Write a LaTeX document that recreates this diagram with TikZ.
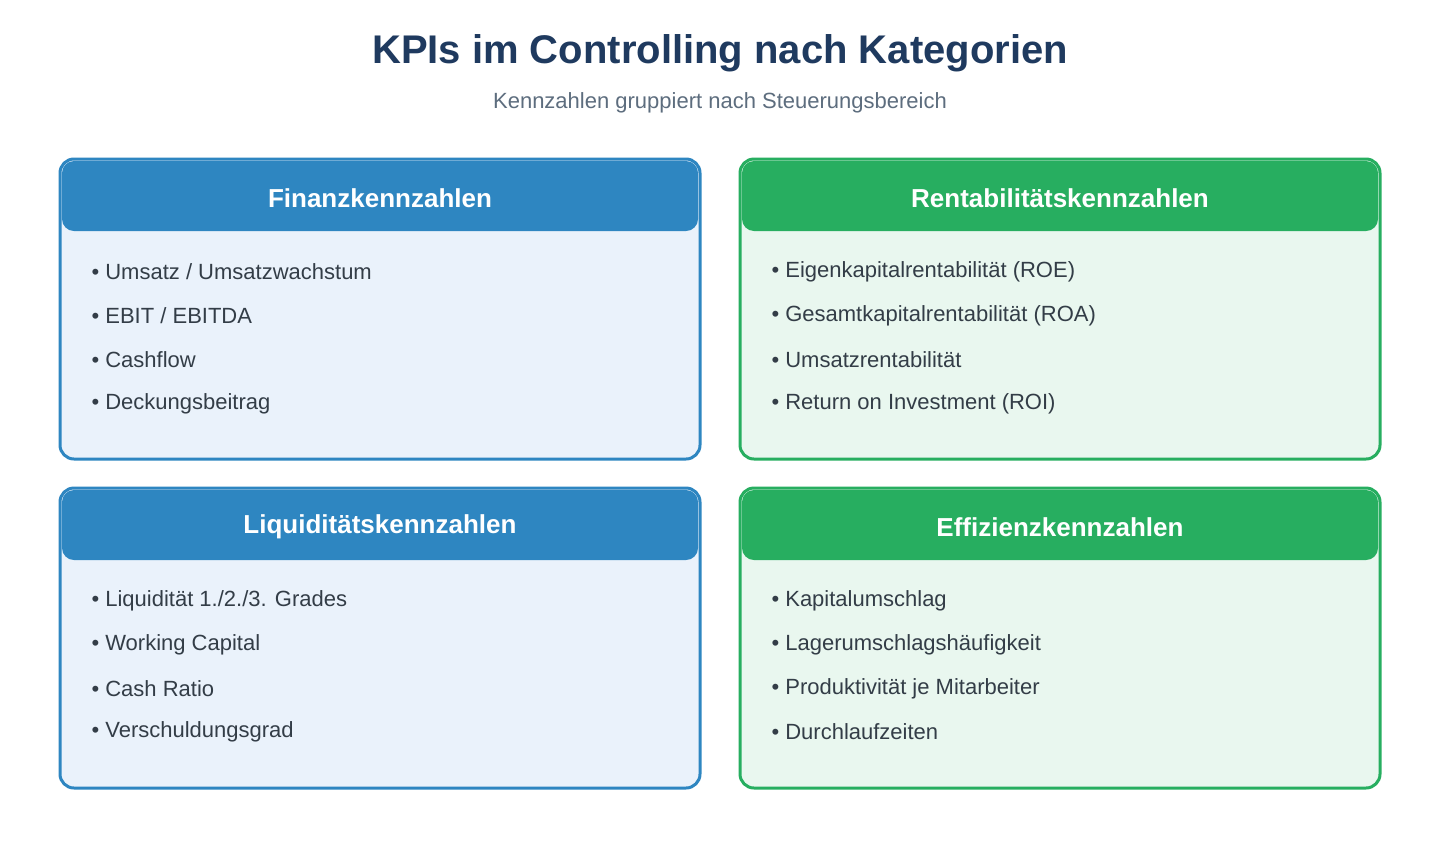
\documentclass[tikz,border=0pt]{standalone}
\usepackage{fontspec}
\setmainfont{Liberation Sans}
\definecolor{bluec}{HTML}{2E86C1}
\definecolor{bluef}{HTML}{EAF2FB}
\definecolor{greenc}{HTML}{27AE60}
\definecolor{greenf}{HTML}{E9F7EF}
\definecolor{titlec}{HTML}{1F3A5F}
\definecolor{subc}{HTML}{5D6D7E}
\definecolor{textc}{HTML}{333D47}
\begin{document}
\begin{tikzpicture}[x=1pt,y=-1pt,
  titletext/.style={font=\fontsize{40}{48}\selectfont\bfseries,text=titlec},
  subtext/.style={font=\fontsize{22}{26}\selectfont,text=subc},
  headtext/.style={font=\fontsize{26}{30}\selectfont\bfseries,text=white},
  item/.style={font=\fontsize{22}{26}\selectfont,text=textc,anchor=west}]
\useasboundingbox[fill=white] (0,0) rectangle (1440,860);
\node[titletext] (title) at (720,53) {KPIs im Controlling nach Kategorien};
\node[subtext] (sub) at (720,103) {Kennzahlen gruppiert nach Steuerungsbereich};
\newcommand\kpibox[6]{% x y border fill name title
  \draw[#3,line width=3,fill=#4,rounded corners=14] (#1,#2) rectangle ++(640,300);
  \fill[#3,rounded corners=12] (#1+2,#2+2) rectangle ++(636,70);
  \fill[#3] (#1+2,#2+40) rectangle ++(636,20);
  \node[headtext] (#5) at (#1+320,#2+39) {#6};
}
\newcommand\items[6]{% x y name i1..i4 ... 
  \node[item] (#3a) at (#1+28,#2+113) {• #4};
  \node[item] (#3b) at (#1+28,#2+157) {• #5};
  \node[item] (#3c) at (#1+28,#2+201) {• #6};
}
\kpibox{60}{159}{bluec}{bluef}{fin}{Finanzkennzahlen}
\items{60}{159}{fi}{Umsatz / Umsatzwachstum}{EBIT / EBITDA}{Cashflow}
\node[item] (fid) at (88,404) {• Deckungsbeitrag};
\kpibox{740}{159}{greenc}{greenf}{ren}{Rentabilitätskennzahlen}
\items{740}{159}{re}{Eigenkapitalrentabilität (ROE)}{Gesamtkapitalrentabilität (ROA)}{Umsatzrentabilität}
\node[item] (red) at (768,404) {• Return on Investment (ROI)};
\kpibox{60}{488}{bluec}{bluef}{liq}{Liquiditätskennzahlen}
\items{60}{488}{li}{Liquidität 1./2./3. Grades}{Working Capital}{Cash Ratio}
\node[item] (lid) at (88,732) {• Verschuldungsgrad};
\kpibox{740}{488}{greenc}{greenf}{eff}{Effizienzkennzahlen}
\items{740}{488}{ef}{Kapitalumschlag}{Lagerumschlagshäufigkeit}{Produktivität je Mitarbeiter}
\node[item] (efd) at (768,732) {• Durchlaufzeiten};
\end{tikzpicture}
\end{document}
